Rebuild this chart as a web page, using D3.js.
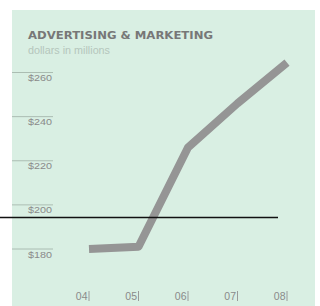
<!DOCTYPE html>
<html>
<head>
<meta charset="utf-8">
<script src="https://cdn.jsdelivr.net/npm/d3@7"></script>
<style>
body{margin:0;background:#fff;}
svg{display:block;font-family:"Liberation Sans",Arial,sans-serif;}
</style>
</head>
<body>
<svg id="chart" width="320" height="306"></svg>
<script>
let years = ['04', '05', '06', '07', '08'];
let spend = [180, 181, 226, 246, 264.5];
let yTicks = [180, 200, 220, 240, 260];

let svg = d3.select('#chart');
svg.append('rect').attr('x', 12).attr('y', 10).attr('width', 303).attr('height', 300).attr('fill', '#d9efe3');

let x = d3.scalePoint().domain(years).range([89, 287]);
let y = d3.scaleLinear().domain([180, 260]).range([249, 72.5]);

svg.append('text').attr('x', 28).attr('y', 38.5)
  .attr('font-family', '"DejaVu Sans", sans-serif')
  .attr('font-size', 10.5).attr('font-weight', 'bold').attr('fill', '#777')
  .attr('textLength', 185).attr('lengthAdjust', 'spacingAndGlyphs')
  .text('ADVERTISING & MARKETING');
svg.append('text').attr('x', 28).attr('y', 53.5)
  .attr('font-size', 10).attr('fill', '#b5c6bc')
  .attr('textLength', 82).attr('lengthAdjust', 'spacingAndGlyphs')
  .text('dollars in millions');

// y axis: short rules with labels under them
let yAxis = svg.append('g').attr('class', 'yAxis');
let yt = yAxis.selectAll('g').data(yTicks).join('g')
  .attr('transform', d => `translate(0,${y(d)})`);
yt.append('line').attr('x1', 12).attr('x2', 53).attr('stroke', '#9fb0a6').attr('stroke-width', 0.8);
yt.append('text').attr('x', 28).attr('y', 8.5).attr('font-size', 9.5).attr('fill', '#8a8a8a')
  .attr('textLength', 24).attr('lengthAdjust', 'spacingAndGlyphs')
  .text(d => '$' + d);

// x axis labels with a small bar after each
let xAxis = svg.append('g').attr('class', 'xAxis');
let xt = xAxis.selectAll('g').data(years).join('g')
  .attr('transform', d => `translate(${x(d)},0)`);
xt.append('text').attr('x', -1.5).attr('y', 300).attr('text-anchor', 'end')
  .attr('font-size', 10.5).attr('fill', '#8a8a8a').text(d => d);
xt.append('line').attr('y1', 291).attr('y2', 301).attr('stroke', '#9a9a9a').attr('stroke-width', 1);

let line = d3.line().x((d, i) => x(years[i])).y(d => y(d));
svg.append('path').datum(spend).attr('d', line)
  .attr('fill', 'none').attr('stroke', '#959595').attr('stroke-width', 8)
  .attr('stroke-linejoin', 'round');

// black rule across the chart
svg.append('line').attr('x1', 0).attr('x2', 278).attr('y1', 217.5).attr('y2', 217.5)
  .attr('stroke', '#111').attr('stroke-width', 1.5);
</script>
</body>
</html>
